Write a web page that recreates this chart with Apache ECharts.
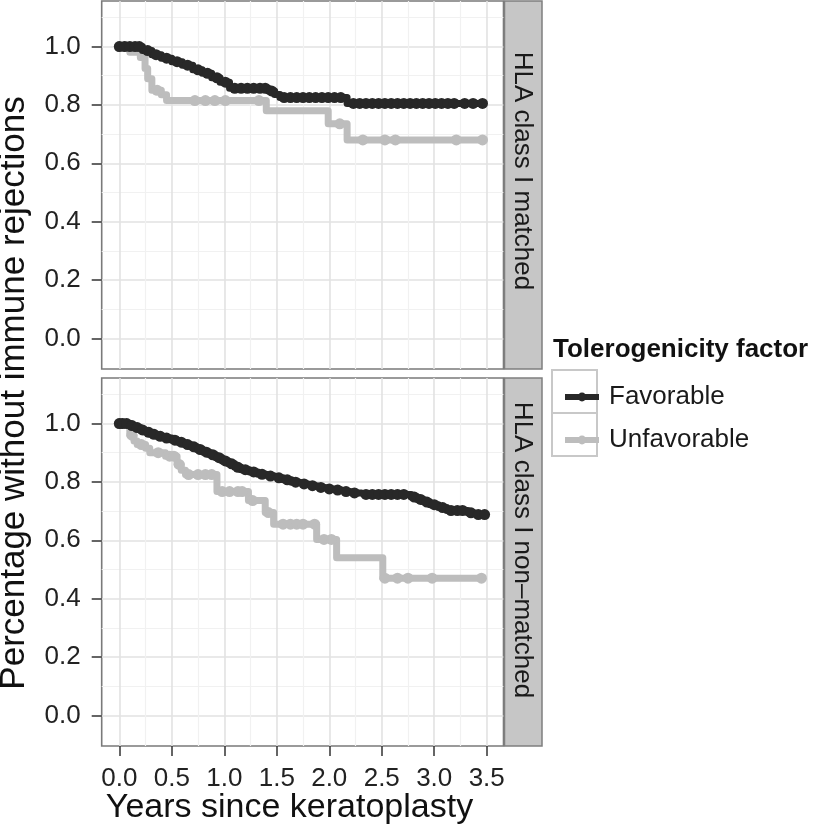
<!DOCTYPE html>
<html><head><meta charset="utf-8">
<script src="https://cdn.jsdelivr.net/npm/echarts@6/dist/echarts.min.js"></script>
<style>html,body{margin:0;padding:0;background:#fff}#c{width:822px;height:830px}</style>
</head><body><div id="c"></div>
<script>
// ---- tick labels / categories ----
const xTicks = [0, 0.5, 1, 1.5, 2, 2.5, 3, 3.5];
const xMinor = [0.25, 0.75, 1.25, 1.75, 2.25, 2.75, 3.25];
const yTicks = [0, 0.2, 0.4, 0.6, 0.8, 1.0];
const yMinor = [0.1, 0.3, 0.5, 0.7, 0.9, 1.1];
const panels = ['HLA class I matched', 'HLA class I non\u2013matched'];
const groups = ['Favorable', 'Unfavorable'];

// ---- HLA class I matched: Favorable ----
const topFavT = [0, 0.22, 0.31, 0.40, 0.50, 0.60, 0.70, 0.79, 0.88, 0.96, 1.05, 1.42, 1.48, 1.53, 2.17];
const topFavS = [1.0, 0.986, 0.972, 0.960, 0.948, 0.936, 0.920, 0.908, 0.893, 0.878, 0.857, 0.848, 0.836, 0.825, 0.805];
const topFavCens = [0, 0.05, 0.10, 0.15, 0.19, 0.27, 0.35, 0.45, 0.55, 0.65, 0.75, 0.84, 0.93, 1.01, 1.10, 1.16, 1.22, 1.28, 1.34, 1.39, 1.45, 1.57, 1.63, 1.69, 1.75, 1.81, 1.87, 1.93, 1.99, 2.05, 2.11, 2.23, 2.29, 2.35, 2.41, 2.47, 2.53, 2.59, 2.65, 2.71, 2.77, 2.83, 2.89, 2.95, 3.01, 3.07, 3.13, 3.19, 3.29, 3.37, 3.46];

// ---- HLA class I matched: Unfavorable ----
const topUnfT = [0, 0.10, 0.20, 0.245, 0.27, 0.31, 0.40, 0.45, 1.40, 1.99, 2.17];
const topUnfS = [1.0, 0.980, 0.962, 0.925, 0.890, 0.850, 0.835, 0.815, 0.780, 0.735, 0.680];
const topUnfCens = [0, 0.06, 0.36, 0.72, 0.82, 0.91, 1.01, 1.33, 2.10, 2.32, 2.53, 2.63, 3.21, 3.46];

// ---- HLA class I non-matched: Favorable ----
const botFavT = [0, 0.10, 0.14, 0.20, 0.25, 0.30, 0.36, 0.42, 0.50, 0.56, 0.62, 0.68, 0.74, 0.80, 0.86, 0.92, 0.98, 1.04, 1.10, 1.16, 1.24, 1.32, 1.40, 1.48, 1.56, 1.64, 1.72, 1.80, 1.88, 1.96, 2.04, 2.12, 2.20, 2.30, 2.78, 2.84, 2.90, 2.96, 3.04, 3.12, 3.32, 3.38];
const botFavS = [1.0, 0.993, 0.986, 0.978, 0.970, 0.963, 0.956, 0.950, 0.943, 0.936, 0.928, 0.920, 0.911, 0.902, 0.893, 0.883, 0.872, 0.862, 0.850, 0.842, 0.834, 0.826, 0.820, 0.814, 0.807, 0.799, 0.793, 0.787, 0.781, 0.776, 0.772, 0.767, 0.762, 0.757, 0.748, 0.740, 0.731, 0.722, 0.712, 0.702, 0.694, 0.688];
const botFavCens = [0, 0.03, 0.07, 0.12, 0.17, 0.22, 0.28, 0.33, 0.39, 0.45, 0.53, 0.59, 0.65, 0.71, 0.77, 0.83, 0.89, 0.95, 1.01, 1.07, 1.13, 1.20, 1.28, 1.36, 1.44, 1.52, 1.60, 1.68, 1.76, 1.84, 1.92, 2.00, 2.08, 2.16, 2.24, 2.35, 2.41, 2.47, 2.53, 2.59, 2.65, 2.71, 2.81, 2.87, 2.93, 3.00, 3.08, 3.16, 3.22, 3.27, 3.35, 3.42, 3.48];

// ---- HLA class I non-matched: Unfavorable ----
const botUnfT = [0, 0.10, 0.14, 0.17, 0.25, 0.29, 0.44, 0.55, 0.59, 0.63, 0.93, 1.23, 1.39, 1.47, 1.88, 2.07, 2.51];
const botUnfS = [1.0, 0.960, 0.940, 0.928, 0.915, 0.900, 0.888, 0.860, 0.840, 0.825, 0.767, 0.736, 0.695, 0.655, 0.603, 0.540, 0.470];
const botUnfCens = [0, 0.04, 0.12, 0.21, 0.37, 0.48, 0.52, 0.57, 0.66, 0.75, 0.82, 0.88, 0.98, 1.05, 1.13, 1.17, 1.27, 1.42, 1.56, 1.63, 1.69, 1.75, 1.86, 1.95, 2.02, 2.53, 2.65, 2.75, 2.98, 3.45];

const FONT = 'Liberation Sans, Arial, Helvetica, sans-serif';
const DARK = '#282828', LIGHT = '#bdbdbd';

function buildCurve(ts, ss, cens) {
  const pts = [];
  ts.forEach((t, i) => pts.push({ t: t, s: ss[i], c: 0 }));
  cens.forEach(c => {
    let s = ss[0];
    for (let i = 0; i < ts.length; i++) { if (ts[i] <= c) s = ss[i]; }
    pts.push({ t: c, s: s, c: 1 });
  });
  pts.sort((a, b) => (a.t - b.t) || (a.c - b.c));
  return pts.map(p => p.c ? { value: [p.t, p.s] } : { value: [p.t, p.s], symbol: 'none' });
}

function mkSeries(name, data, color, ai, z) {
  return {
    type: 'line', name: name, data: data, step: 'end',
    xAxisIndex: ai, yAxisIndex: ai, z: z,
    symbol: 'circle', symbolSize: 11, showSymbol: true, showAllSymbol: true,
    lineStyle: { color: color, width: 7, join: 'round' },
    itemStyle: { color: color, borderWidth: 0 },
    emphasis: { disabled: true }, silent: true, animation: false
  };
}

const XMIN = -0.168, XMAX = 3.66, YMIN = -0.105, YMAX = 1.156;
const grids = [
  { left: 101.7, top: 1, width: 401.8, height: 368 },
  { left: 101.7, top: 378, width: 401.8, height: 368 }
];

function xAxisMain(gi, showLabels) {
  return {
    type: 'value', gridIndex: gi, min: XMIN, max: XMAX, position: 'bottom',
    axisLine: { show: false, onZero: false },
    axisTick: { show: showLabels, customValues: xTicks, length: 10, lineStyle: { color: '#333', width: 1.5 } },
    axisLabel: { show: showLabels, customValues: xTicks, margin: 20, fontSize: 26, color: '#222', fontFamily: FONT, formatter: v => v.toFixed(1) },
    splitLine: { show: true, lineStyle: { color: '#e2e2e2', width: 1.6 } }
  };
}
function xAxisMinor(gi) {
  return {
    type: 'value', gridIndex: gi, min: XMIN, max: XMAX, position: 'bottom',
    axisLine: { show: false, onZero: false }, axisTick: { show: false, customValues: xMinor },
    axisLabel: { show: false, customValues: xMinor },
    splitLine: { show: true, lineStyle: { color: '#f1f1f1', width: 1.2 } }
  };
}
function yAxisMain(gi) {
  return {
    type: 'value', gridIndex: gi, min: YMIN, max: YMAX, position: 'left',
    axisLine: { show: false, onZero: false },
    axisTick: { show: true, customValues: yTicks, length: 10, lineStyle: { color: '#333', width: 1.5 } },
    axisLabel: { show: true, customValues: yTicks, margin: 21, fontSize: 26, color: '#222', fontFamily: FONT, formatter: v => v.toFixed(1) },
    splitLine: { show: true, lineStyle: { color: '#e2e2e2', width: 1.6 } }
  };
}
function yAxisMinor(gi) {
  return {
    type: 'value', gridIndex: gi, min: YMIN, max: YMAX, position: 'left',
    axisLine: { show: false, onZero: false }, axisTick: { show: false, customValues: yMinor },
    axisLabel: { show: false, customValues: yMinor },
    splitLine: { show: true, lineStyle: { color: '#f1f1f1', width: 1.2 } }
  };
}

const option = {
  backgroundColor: '#ffffff',
  animation: false,
  grid: grids.map(g => Object.assign({ show: true, borderColor: '#7a7a7a', borderWidth: 1.6, backgroundColor: '#ffffff', containLabel: false }, g)),
  // axes 0,2 carry data; 1,3 only draw minor grid lines
  xAxis: [xAxisMain(0, false), xAxisMinor(0), xAxisMain(1, true), xAxisMinor(1)],
  yAxis: [yAxisMain(0), yAxisMinor(0), yAxisMain(1), yAxisMinor(1)],
  legend: {
    data: groups, orient: 'vertical', left: 557, top: 379,
    itemWidth: 34, itemHeight: 11, itemGap: 17, selectedMode: false,
    lineStyle: { width: 6 },
    textStyle: { fontSize: 26, color: '#1a1a1a', fontFamily: FONT, padding: [0, 0, 0, 5] }
  },
  series: [
    mkSeries(groups[0], buildCurve(topFavT, topFavS, topFavCens), DARK, 0, 3),
    mkSeries(groups[1], buildCurve(topUnfT, topUnfS, topUnfCens), LIGHT, 0, 2),
    mkSeries(groups[0], buildCurve(botFavT, botFavS, botFavCens), DARK, 2, 3),
    mkSeries(groups[1], buildCurve(botUnfT, botUnfS, botUnfCens), LIGHT, 2, 2)
  ],
  graphic: [
    { type: 'rect', z: 1, shape: { x: 504.5, y: 1, width: 37.5, height: 368 }, style: { fill: '#c6c6c6', stroke: '#7f7f7f', lineWidth: 1.5 } },
    { type: 'rect', z: 1, shape: { x: 504.5, y: 378, width: 37.5, height: 368 }, style: { fill: '#c6c6c6', stroke: '#7f7f7f', lineWidth: 1.5 } },
    { type: 'text', z: 2, x: 522, y: 171, rotation: -Math.PI / 2, style: { text: panels[0], fontSize: 26, fontFamily: FONT, fill: '#1a1a1a', align: 'center', verticalAlign: 'middle' } },
    { type: 'text', z: 2, x: 522, y: 550, rotation: -Math.PI / 2, style: { text: panels[1], fontSize: 26, fontFamily: FONT, fill: '#1a1a1a', align: 'center', verticalAlign: 'middle' } },
    { type: 'rect', z: 1, shape: { x: 552, y: 370, width: 45, height: 43 }, style: { fill: '#fff', stroke: '#c8c8c8', lineWidth: 2 } },
    { type: 'rect', z: 1, shape: { x: 552, y: 413, width: 45, height: 43 }, style: { fill: '#fff', stroke: '#c8c8c8', lineWidth: 2 } },
    { type: 'text', z: 2, x: 553, y: 350, style: { text: 'Tolerogenicity factor', fontSize: 26, fontWeight: 'bold', fontFamily: FONT, fill: '#111', align: 'left', verticalAlign: 'middle' } },
    { type: 'text', z: 2, x: 289.5, y: 808, style: { text: 'Years since keratoplasty', fontSize: 34, fontFamily: FONT, fill: '#111', align: 'center', verticalAlign: 'middle' } },
    { type: 'text', z: 2, x: 14, y: 393, rotation: Math.PI / 2, style: { text: 'Percentage without immune rejections', fontSize: 35, fontFamily: FONT, fill: '#111', align: 'center', verticalAlign: 'middle' } }
  ]
};

const chart = echarts.init(document.getElementById('c'), null, { renderer: 'canvas' });
chart.setOption(option);
</script>
</body></html>
